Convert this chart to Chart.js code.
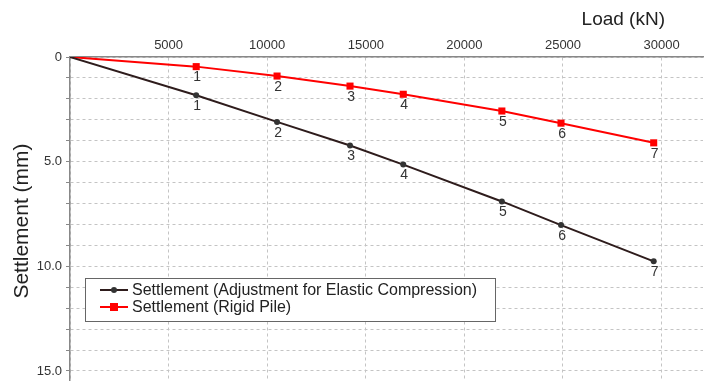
<!DOCTYPE html>
<html lang="en">
<head>
  <meta charset="UTF-8">
  <title>Settlement vs Load</title>
  <style>
    body {
      margin: 0;
      background-color: #fff;
    }
    .chart-box {
      width: 708px;
      height: 385px;
    }
  </style>
  <script src="https://cdn.jsdelivr.net/npm/chart.js"></script>
</head>
<body>
<div class="chart-box">
  <canvas id="settlementChart"></canvas>
</div>

<script>
  // Load steps (kN), origin included
  const loads = [0, 6400, 10500, 14200, 16900, 21900, 24900, 29600];
  // Settlement (mm)
  const elasticSettlement = [0, 1.83, 3.1, 4.23, 5.14, 6.9, 8.03, 9.76];
  const rigidSettlement = [0, 0.46, 0.91, 1.39, 1.78, 2.58, 3.16, 4.1];
  const pointNames = ['', '1', '2', '3', '4', '5', '6', '7'];
  const seriesNames = ['Settlement (Adjustment for Elastic Compression)', 'Settlement (Rigid Pile)'];
  // axis ticks
  const loadTicks = [0, 5000, 10000, 15000, 20000, 25000, 30000];
  const settlementTicks = [0, 1, 2, 3, 4, 5, 6, 7, 8, 9, 10, 11, 12, 13, 14, 15];

  const FONT = "'Liberation Sans', Arial, sans-serif";
  const gridColor = '#c4c4c4';

  function toPoints(ys) {
    return loads.map((x, i) => ({ x: x, y: ys[i] }));
  }

  // numbers next to each point
  const pointNumbers = {
    id: 'pointNumbers',
    afterDatasetsDraw(chart) {
      const ctx = chart.ctx;
      ctx.save();
      ctx.font = '14px ' + FONT;
      ctx.fillStyle = '#333';
      ctx.textAlign = 'center';
      ctx.textBaseline = 'middle';
      chart.data.datasets.forEach((ds, d) => {
        const meta = chart.getDatasetMeta(d);
        meta.data.forEach((pt, i) => {
          if (!pointNames[i]) return;
          ctx.fillText(pointNames[i], pt.x + 1, pt.y + 11);
        });
      });
      ctx.restore();
    }
  };

  // axis titles and boxed legend
  const decorations = {
    id: 'decorations',
    afterDraw(chart) {
      const ctx = chart.ctx;
      ctx.save();
      ctx.fillStyle = '#222';
      ctx.font = '19px ' + FONT;
      ctx.textAlign = 'right';
      ctx.textBaseline = 'middle';
      ctx.fillText('Load (kN)', 665, 20);

      ctx.font = '21px ' + FONT;
      ctx.translate(22, 221);
      ctx.rotate(-Math.PI / 2);
      ctx.textAlign = 'center';
      ctx.fillText('Settlement (mm)', 0, 0);
      ctx.restore();

      // legend
      ctx.save();
      const bx = 85, by = 278, bw = 410, bh = 43;
      ctx.fillStyle = '#fff';
      ctx.fillRect(bx, by, bw, bh);
      ctx.strokeStyle = '#666';
      ctx.lineWidth = 1;
      ctx.strokeRect(bx + 0.5, by + 0.5, bw, bh);
      ctx.font = '16px ' + FONT;
      ctx.textAlign = 'left';
      ctx.textBaseline = 'middle';
      chart.data.datasets.forEach((ds, d) => {
        const y = by + 12 + d * 17;
        ctx.strokeStyle = ds.borderColor;
        ctx.lineWidth = 2;
        ctx.beginPath();
        ctx.moveTo(100, y);
        ctx.lineTo(128, y);
        ctx.stroke();
        ctx.fillStyle = ds.pointBackgroundColor;
        if (ds.pointStyle === 'rect') {
          ctx.fillRect(110, y - 4, 8, 8);
        } else {
          ctx.beginPath();
          ctx.arc(114, y, 3, 0, Math.PI * 2);
          ctx.fill();
        }
        ctx.fillStyle = '#222';
        ctx.fillText(seriesNames[d], 132, y + 1);
      });
      ctx.restore();
    }
  };

  const config = {
    type: 'line',
    data: {
      datasets: [
        {
          label: seriesNames[0],
          data: toPoints(elasticSettlement),
          borderColor: '#2e1c1c',
          borderWidth: 2,
          pointStyle: 'circle',
          pointRadius: loads.map(v => v === 0 ? 0 : 3),
          pointBackgroundColor: '#333',
          pointBorderWidth: 0,
          fill: false,
          tension: 0
        },
        {
          label: seriesNames[1],
          data: toPoints(rigidSettlement),
          borderColor: '#ff0000',
          borderWidth: 2,
          pointStyle: 'rect',
          pointRadius: loads.map(v => v === 0 ? 0 : 5),
          pointBackgroundColor: '#ff0000',
          pointBorderWidth: 0,
          fill: false,
          tension: 0
        }
      ]
    },
    options: {
      responsive: true,
      maintainAspectRatio: false,
      animation: false,
      layout: { padding: 0 },
      plugins: {
        legend: { display: false },
        tooltip: { enabled: false }
      },
      scales: {
        x: {
          type: 'linear',
          position: 'top',
          min: 0,
          max: 32100,
          afterBuildTicks(scale) { scale.ticks = loadTicks.map(v => ({ value: v })); },
          afterFit(scale) {
            scale.height = 57;
            scale.paddingLeft = 0;
            scale.paddingRight = 0;
          },
          ticks: {
            autoSkip: false,
            padding: 4,
            maxRotation: 0,
            color: '#333',
            font: { family: FONT, size: 13 },
            callback: v => v === 0 ? '' : String(v)
          },
          grid: { color: gridColor, drawTicks: false },
          border: { color: '#888', width: 1.5, dash: [3, 3] }
        },
        y: {
          type: 'linear',
          position: 'left',
          reverse: true,
          min: 0,
          max: 15.43,
          afterBuildTicks(scale) { scale.ticks = settlementTicks.map(v => ({ value: v })); },
          afterFit(scale) {
            scale.width = 70;
            scale.paddingTop = 0;
            scale.paddingBottom = 0;
          },
          ticks: {
            autoSkip: false,
            padding: 4,
            color: '#333',
            font: { family: FONT, size: 13 },
            callback: v => v === 0 ? '0' : (v % 5 === 0 ? v.toFixed(1) : '')
          },
          grid: { color: gridColor, tickLength: 4, tickColor: '#888' },
          border: { color: '#888', width: 1.5, dash: [3, 3] }
        }
      }
    },
    plugins: [pointNumbers, decorations]
  };

  new Chart(document.getElementById('settlementChart').getContext('2d'), config);
</script>
</body>
</html>
